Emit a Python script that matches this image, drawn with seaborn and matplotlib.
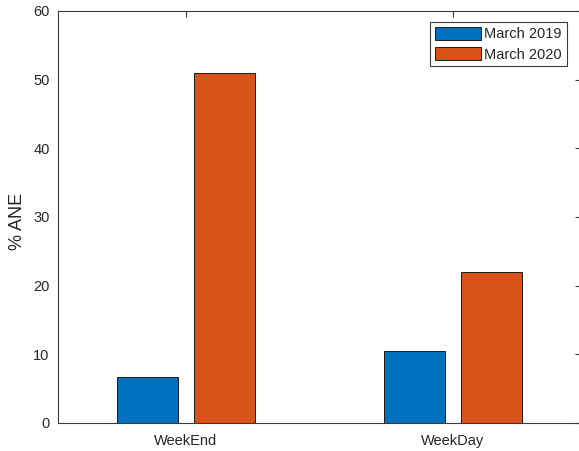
import numpy as np
import pandas as pd
import matplotlib
matplotlib.use("Agg")
import matplotlib.pyplot as plt
from matplotlib.patches import Patch
import seaborn as sns

# values
periods = ["WeekEnd", "WeekDay"]
years = ["March 2019", "March 2020"]
ane_2019 = [6.7, 10.5]
ane_2020 = [50.9, 22.0]
y_ticks = [0, 10, 20, 30, 40, 50, 60]

colors = ["#0072BD", "#D95319"]
axis_color = "#3a3a3a"

df = pd.DataFrame({
    "period": periods * 2,
    "year": [years[0]] * len(periods) + [years[1]] * len(periods),
    "ane": ane_2019 + ane_2020,
})

sns.set_style("white")
plt.rcParams["font.family"] = ["Liberation Sans", "DejaVu Sans"]

fig = plt.figure(figsize=(5.79, 4.51), dpi=100)
ax = fig.add_axes([58 / 579, 28 / 451, 523 / 579, 412 / 451])

sns.barplot(
    data=df, x="period", y="ane", hue="year", order=periods, hue_order=years,
    palette=colors, width=0.576, gap=0.21, saturation=1,
    edgecolor="#1a1a1a", linewidth=0.7, ax=ax, legend=False,
)

ax.set_xlim(-0.479, 1.479)
ax.set_ylim(0, 60)
ax.set_yticks(y_ticks)
ax.set_xlabel("")
ax.set_ylabel("% ANE", fontsize=13, color="#262626")
ax.yaxis.set_label_coords(-0.061, 0.49)

for side in ["left", "right", "top", "bottom"]:
    ax.spines[side].set_visible(True)
    ax.spines[side].set_color(axis_color)
    ax.spines[side].set_linewidth(0.8)

ax.tick_params(axis="both", which="both", direction="in", length=4, width=0.8,
               color=axis_color, top=True, right=True, labelsize=10.5,
               labelcolor="#262626")
ax.tick_params(axis="x", pad=8)
ax.tick_params(axis="y", pad=6)

handles = [Patch(facecolor=c, edgecolor="#1a1a1a", linewidth=0.7) for c in colors]
leg = ax.legend(
    handles, years, loc="upper right", bbox_to_anchor=(0.973, 0.973),
    fontsize=10.5, frameon=True, fancybox=False, framealpha=1,
    handlelength=3.15, handleheight=1.0, handletextpad=0.27,
    labelspacing=0.38, borderpad=0.33, borderaxespad=0,
)
leg.get_frame().set_edgecolor(axis_color)
leg.get_frame().set_linewidth(0.8)

fig.savefig("out.png", dpi=100)
